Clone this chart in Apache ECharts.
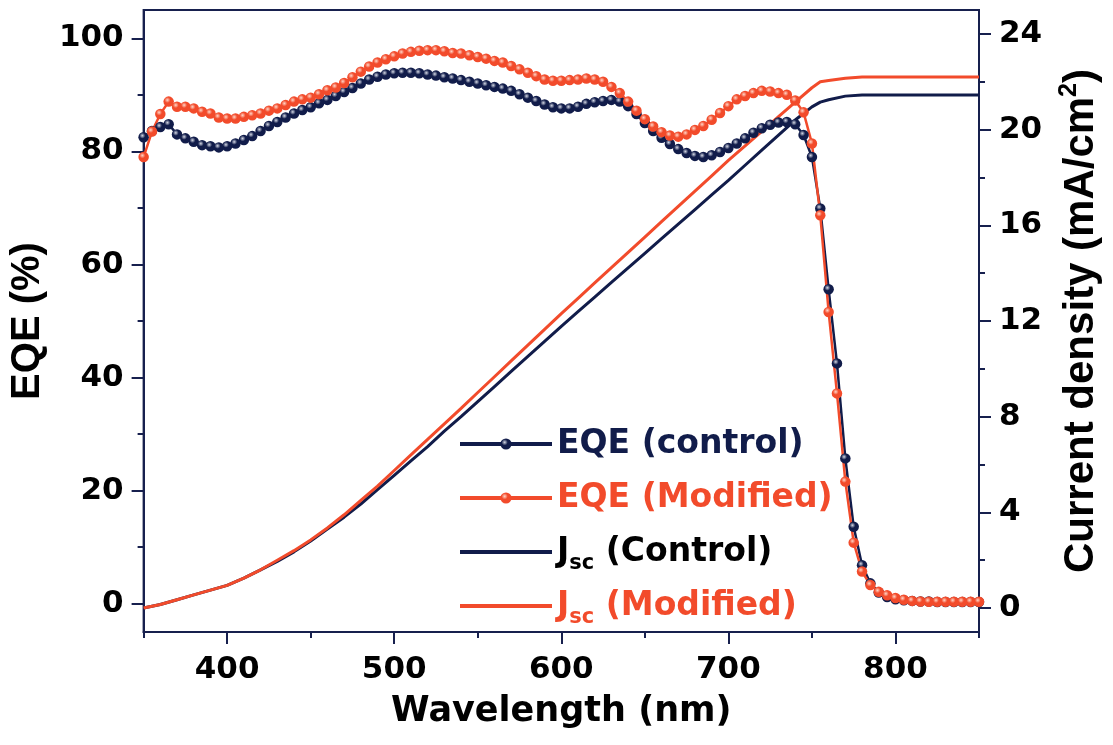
<!DOCTYPE html>
<html>
<head>
<meta charset="utf-8">
<title>EQE / Jsc</title>
<script src="https://cdn.jsdelivr.net/npm/echarts@6/dist/echarts.min.js"></script>
<style>
  html, body { margin: 0; padding: 0; background: #fff; }
  #main { width: 1113px; height: 745px; }
</style>
</head>
<body>
<div id="main"></div>
<script>
// wavelength grid of the EQE measurement (nm)
var wavelength = [
  350, 355, 360, 365, 370, 375, 380, 385, 390, 395,
  400, 405, 410, 415, 420, 425, 430, 435, 440, 445,
  450, 455, 460, 465, 470, 475, 480, 485, 490, 495,
  500, 505, 510, 515, 520, 525, 530, 535, 540, 545,
  550, 555, 560, 565, 570, 575, 580, 585, 590, 595,
  600, 605, 610, 615, 620, 625, 630, 635, 640, 645,
  650, 655, 660, 665, 670, 675, 680, 685, 690, 695,
  700, 705, 710, 715, 720, 725, 730, 735, 740, 745,
  750, 755, 760, 765, 770, 775, 780, 785, 790, 795,
  800, 805, 810, 815, 820, 825, 830, 835, 840, 845, 850
]
// EQE (%)
var eqeControl = [
  82.5, 83.6, 84.3, 84.8, 83.0, 82.3, 81.7, 81.1, 80.9, 80.7,
  80.9, 81.4, 82.0, 82.7, 83.6, 84.5, 85.2, 86.0, 86.7, 87.3,
  87.8, 88.5, 89.1, 89.8, 90.5, 91.2, 92.0, 92.7, 93.2, 93.6,
  93.8, 93.9, 93.9, 93.8, 93.6, 93.4, 93.1, 92.9, 92.6, 92.3,
  92.0, 91.7, 91.4, 91.1, 90.7, 90.1, 89.5, 88.9, 88.3, 87.8,
  87.6, 87.6, 87.9, 88.4, 88.7, 88.9, 89.1, 88.8, 88.0, 86.6,
  85.0, 83.6, 82.4, 81.3, 80.4, 79.7, 79.2, 79.0, 79.3, 79.9,
  80.6, 81.4, 82.3, 83.3, 84.1, 84.7, 85.1, 85.2, 84.8, 82.9,
  79.0, 69.9, 55.6, 42.5, 25.7, 13.6, 6.8, 3.6, 2.0, 1.2,
  0.8, 0.6, 0.5, 0.4, 0.4, 0.3, 0.3, 0.3, 0.3, 0.3, 0.3
]
var eqeModified = [
  79.0, 83.5, 86.6, 88.8, 87.9, 87.9, 87.6, 87.0, 86.7, 86.0,
  85.8, 85.8, 86.1, 86.4, 86.7, 87.2, 87.6, 88.2, 88.8, 89.2,
  89.5, 90.1, 90.8, 91.3, 92.1, 93.1, 94.1, 95.0, 95.7, 96.3,
  96.8, 97.3, 97.6, 97.8, 97.9, 97.9, 97.7, 97.4, 97.3, 97.0,
  96.7, 96.4, 96.0, 95.7, 95.1, 94.5, 93.9, 93.3, 92.7, 92.5,
  92.5, 92.6, 92.7, 92.9, 92.7, 92.3, 91.4, 90.3, 88.8, 87.2,
  85.7, 84.4, 83.4, 82.8, 82.6, 83.0, 83.8, 84.5, 85.6, 86.8,
  88.0, 89.2, 89.8, 90.3, 90.7, 90.6, 90.3, 90.0, 89.0, 86.9,
  81.4, 68.7, 51.6, 37.2, 21.6, 10.8, 5.7, 3.3, 2.1, 1.5,
  1.0, 0.7, 0.5, 0.4, 0.35, 0.35, 0.35, 0.35, 0.35, 0.35, 0.35
]
// integrated current density (mA/cm2)
var jscWavelength = [
  350, 360, 370, 380, 390, 400, 410, 420, 430, 440,
  450, 460, 470, 480, 490, 500, 510, 520, 530, 540,
  550, 560, 570, 580, 590, 600, 610, 620, 630, 640,
  650, 660, 670, 680, 690, 700, 710, 720, 730, 740,
  750, 755, 760, 770, 780, 790, 800, 810, 820, 830, 840, 850
]
var jscControl = [
  0.0, 0.15, 0.35, 0.55, 0.75, 0.95, 1.25, 1.6, 1.95, 2.35,
  2.8, 3.3, 3.8, 4.35, 4.95, 5.55, 6.15, 6.75, 7.4, 8.0,
  8.63, 9.26, 9.89, 10.52, 11.15, 11.78, 12.39, 13.0, 13.61, 14.22,
  14.83, 15.44, 16.05, 16.66, 17.27, 17.88, 18.51, 19.14, 19.77, 20.4,
  20.95, 21.15, 21.25, 21.4, 21.45, 21.45, 21.45, 21.45, 21.45, 21.45, 21.45, 21.45
]
var jscModified = [
  0.0, 0.15, 0.35, 0.55, 0.75, 0.95, 1.25, 1.6, 2.0, 2.4,
  2.85, 3.35, 3.9, 4.5, 5.1, 5.75, 6.4, 7.05, 7.7, 8.35,
  9.01, 9.67, 10.33, 10.99, 11.65, 12.31, 12.95, 13.59, 14.23, 14.87,
  15.51, 16.15, 16.79, 17.43, 18.07, 18.71, 19.32, 19.93, 20.54, 21.15,
  21.75, 22.0, 22.05, 22.15, 22.2, 22.2, 22.2, 22.2, 22.2, 22.2, 22.2, 22.2
]
// tick labels
var xMajorTicks = [400, 500, 600, 700, 800]
var xMinorTicks = [350, 450, 550, 650, 750, 850]
var eqeTicks = [0, 20, 40, 60, 80, 100]
var eqeMinorTicks = [10, 30, 50, 70, 90]
var jscTicks = [0, 4, 8, 12, 16, 20, 24]
var jscMinorTicks = [2, 6, 10, 14, 18, 22]

var navy = '#111c4a'
var red = '#f24b2b'
var axisColor = '#17204e'

function pairs(xs, ys) {
  return xs.map(function (x, i) { return [x, ys[i]] })
}

// little shaded ball like the original markers
function ball(base, light) {
  return {
    type: 'radial', x: 0.38, y: 0.35, r: 0.62,
    colorStops: [
      { offset: 0, color: light },
      { offset: 0.45, color: base },
      { offset: 1, color: base }
    ]
  }
}

var labelFont = { fontSize: 31, fontWeight: 'bold', fontFamily: 'DejaVu Sans', color: '#000' }
var titleFont = { fontSize: 40, fontWeight: 'bold', fontFamily: 'Liberation Sans', color: '#000' }
var axisLine = { show: true, onZero: false, lineStyle: { color: axisColor, width: 2 } }
var tickLine = { color: axisColor, width: 2 }

var legendText = {
  'EQE (control)': 'EQE (control)',
  'EQE (Modified)': 'EQE (Modified)',
  'Jsc (Control)': 'J{sub|sc} (Control)',
  'Jsc (Modified)': 'J{sub|sc} (Modified)'
}

var chart = echarts.init(document.getElementById('main'))

var option = {
  animation: false,
  grid: {
    left: 140, right: 130, top: 10, bottom: 113,
    show: true, borderColor: axisColor, borderWidth: 2
  },
  legend: {
    orient: 'vertical',
    left: 453,
    top: 417,
    itemWidth: 92,
    itemHeight: 14,
    itemGap: 10,
    lineStyle: { width: 4 },
    data: [
      { name: 'EQE (control)', textStyle: { color: navy } },
      { name: 'EQE (Modified)', textStyle: { color: red } },
      // plain line in the key, no marker
      { name: 'Jsc (Control)', textStyle: { color: '#000' }, itemStyle: { opacity: 0 } },
      { name: 'Jsc (Modified)', textStyle: { color: red }, itemStyle: { opacity: 0 } }
    ],
    formatter: function (name) { return legendText[name] },
    textStyle: {
      fontSize: 33, fontWeight: 'bold', fontFamily: 'DejaVu Sans', lineHeight: 44,
      rich: {
        sub: { fontSize: 21, fontWeight: 'bold', fontFamily: 'DejaVu Sans', verticalAlign: 'bottom', lineHeight: 20 }
      }
    }
  },
  xAxis: [
    {
      type: 'value', min: 350, max: 850, position: 'bottom',
      axisLine: axisLine,
      axisTick: { show: true, customValues: xMajorTicks, length: 12, lineStyle: tickLine },
      axisLabel: Object.assign({ customValues: xMajorTicks, margin: 22 }, labelFont),
      splitLine: { show: false },
      name: 'Wavelength (nm)', nameLocation: 'middle', nameGap: 62,
      nameTextStyle: { fontSize: 35, fontWeight: 'bold', fontFamily: 'DejaVu Sans', color: '#000' }
    },
    {
      // minor ticks
      type: 'value', min: 350, max: 850, position: 'bottom',
      axisLine: { show: false, onZero: false },
      axisTick: { show: true, customValues: xMinorTicks, length: 6, lineStyle: tickLine },
      axisLabel: { show: false },
      splitLine: { show: false }
    }
  ],
  yAxis: [
    {
      type: 'value', min: -5, max: 105, position: 'left',
      axisLine: axisLine,
      axisTick: { show: true, customValues: eqeTicks, length: 12, lineStyle: tickLine },
      axisLabel: Object.assign({ customValues: eqeTicks, margin: 20 }, labelFont),
      splitLine: { show: false },
      name: 'EQE (%)', nameLocation: 'middle', nameRotate: 90, nameGap: 82,
      nameTextStyle: titleFont
    },
    {
      type: 'value', min: -1, max: 25, position: 'right',
      axisLine: axisLine,
      axisTick: { show: true, customValues: jscTicks, length: 12, lineStyle: tickLine },
      axisLabel: Object.assign({ customValues: jscTicks, margin: 20 }, labelFont),
      splitLine: { show: false },
      name: 'Current density (mA/cm{sup|2})', nameLocation: 'middle', nameRotate: 90, nameGap: 78,
      nameTextStyle: Object.assign({
        lineHeight: 48,
        rich: {
          sup: { fontSize: 25, fontWeight: 'bold', fontFamily: 'Liberation Sans', color: '#000', verticalAlign: 'top', lineHeight: 30 }
        }
      }, titleFont, { fontSize: 42 })
    },
    {
      type: 'value', min: -5, max: 105, position: 'left',
      axisLine: { show: false, onZero: false },
      axisTick: { show: true, customValues: eqeMinorTicks, length: 6, lineStyle: tickLine },
      axisLabel: { show: false },
      splitLine: { show: false }
    },
    {
      type: 'value', min: -1, max: 25, position: 'right',
      axisLine: { show: false, onZero: false },
      axisTick: { show: true, customValues: jscMinorTicks, length: 6, lineStyle: tickLine },
      axisLabel: { show: false },
      splitLine: { show: false }
    }
  ],
  series: [
    {
      name: 'Jsc (Control)', type: 'line', xAxisIndex: 0, yAxisIndex: 1,
      data: pairs(jscWavelength, jscControl),
      symbol: 'none',
      lineStyle: { color: navy, width: 3 },
      itemStyle: { color: navy }
    },
    {
      name: 'Jsc (Modified)', type: 'line', xAxisIndex: 0, yAxisIndex: 1,
      data: pairs(jscWavelength, jscModified),
      symbol: 'none',
      lineStyle: { color: red, width: 3 },
      itemStyle: { color: red }
    },
    {
      name: 'EQE (control)', type: 'line', xAxisIndex: 0, yAxisIndex: 0,
      data: pairs(wavelength, eqeControl),
      symbol: 'circle', symbolSize: 10.5, showAllSymbol: true,
      lineStyle: { color: navy, width: 2.5 },
      itemStyle: { color: ball(navy, '#d4d8e4') }
    },
    {
      name: 'EQE (Modified)', type: 'line', xAxisIndex: 0, yAxisIndex: 0,
      data: pairs(wavelength, eqeModified),
      symbol: 'circle', symbolSize: 10.5, showAllSymbol: true,
      lineStyle: { color: red, width: 2.5 },
      itemStyle: { color: ball(red, '#ffd6c8') }
    }
  ]
}

chart.setOption(option)
</script>
</body>
</html>
